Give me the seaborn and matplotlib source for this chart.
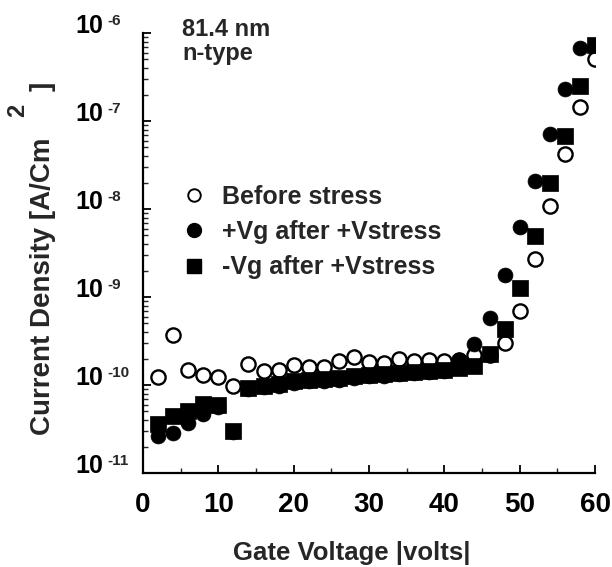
import numpy as np
import pandas as pd
import matplotlib
matplotlib.use("Agg")
import matplotlib.pyplot as plt
import matplotlib.transforms as mtransforms
import seaborn as sns
from matplotlib.ticker import LogLocator, NullFormatter, MultipleLocator
from matplotlib.lines import Line2D

# ---------------- data ----------------
v_before = [2, 4, 6, 8, 10, 12, 14, 16, 18, 20, 22, 24, 26, 28, 30, 32, 34, 36, 38, 40,
            42, 44, 46, 48, 50, 52, 54, 56, 58, 60]
j_before = [1.23e-10, 3.7e-10, 1.5e-10, 1.3e-10, 1.23e-10, 9.8e-11, 1.74e-10, 1.45e-10,
            1.5e-10, 1.7e-10, 1.6e-10, 1.6e-10, 1.87e-10, 2.1e-10, 1.82e-10, 1.8e-10,
            2.0e-10, 1.87e-10, 1.9e-10, 1.87e-10, 1.9e-10, 2.2e-10, 2.2e-10, 3.0e-10,
            6.9e-10, 2.7e-9, 1.07e-8, 4.2e-8, 1.45e-7, 5.0e-7]

v_plus = [2, 4, 6, 8, 10, 12, 14, 16, 18, 20, 22, 24, 26, 28, 30, 32, 34, 36, 38, 40,
          42, 44, 46, 48, 50, 52, 54, 56, 58]
j_plus = [2.6e-11, 2.85e-11, 3.7e-11, 4.7e-11, 5.6e-11, 2.9e-11, 9.0e-11, 9.4e-11,
          9.8e-11, 1.05e-10, 1.1e-10, 1.12e-10, 1.15e-10, 1.2e-10, 1.25e-10, 1.28e-10,
          1.32e-10, 1.36e-10, 1.4e-10, 1.45e-10, 1.9e-10, 2.95e-10, 5.8e-10, 1.76e-9,
          6.2e-9, 2.1e-8, 7.1e-8, 2.3e-7, 6.8e-7]

v_minus = [2, 4, 6, 8, 10, 12, 14, 16, 18, 20, 22, 24, 26, 28, 30, 32, 34, 36, 38, 40,
           42, 44, 46, 48, 50, 52, 54, 56, 58, 60]
j_minus = [3.6e-11, 4.45e-11, 5.0e-11, 6.1e-11, 6.0e-11, 3.0e-11, 9.3e-11, 9.8e-11,
           1.03e-10, 1.1e-10, 1.15e-10, 1.17e-10, 1.2e-10, 1.25e-10, 1.3e-10, 1.33e-10,
           1.38e-10, 1.42e-10, 1.45e-10, 1.5e-10, 1.55e-10, 1.65e-10, 2.25e-10, 4.3e-10,
           1.28e-9, 4.9e-9, 1.96e-8, 6.8e-8, 2.5e-7, 7.4e-7]

labels = ["Before stress", "+Vg after +Vstress", "-Vg after +Vstress"]
x_ticks = [0, 10, 20, 30, 40, 50, 60]
y_exps = [-11, -10, -9, -8, -7, -6]

# ---------------- style ----------------
sns.set_style("ticks")
FAM = ["Liberation Sans", "DejaVu Sans"]
plt.rcParams["font.family"] = FAM
plt.rcParams["font.weight"] = "bold"

fig = plt.figure(figsize=(6.12, 5.67), dpi=100)
ax = fig.add_axes([143 / 612, 1 - 473 / 567, 452 / 612, 440 / 567])

sns.scatterplot(x=v_before, y=j_before, ax=ax, marker="o", s=105,
                facecolor="white", edgecolor="black", linewidth=1.7, zorder=3)
sns.scatterplot(x=v_plus, y=j_plus, ax=ax, marker="o", s=115,
                color="black", edgecolor="black", linewidth=0.5, zorder=4)
sns.scatterplot(x=v_minus, y=j_minus, ax=ax, marker="s", s=120,
                color="black", edgecolor="black", linewidth=0.5, zorder=5)

ax.set_yscale("log")
ax.set_xlim(0, 60)
ax.set_ylim(1e-11, 1e-6)

sns.despine(ax=ax, top=True, right=True)
for sp in ["left", "bottom"]:
    ax.spines[sp].set_linewidth(1.6)
    ax.spines[sp].set_color("black")

ax.set_xticks(x_ticks)
ax.set_xticklabels([str(t) for t in x_ticks], fontsize=20, fontweight="bold")
ax.xaxis.set_minor_locator(MultipleLocator(5))

# y ticks: base "10" as tick label, exponent as a small raised text
ax.set_yticks([10.0 ** e for e in y_exps])
ax.set_yticklabels(["10"] * len(y_exps), fontsize=18, fontweight="bold")
ax.yaxis.set_minor_locator(LogLocator(base=10, subs=np.arange(2, 10)))
ax.yaxis.set_minor_formatter(NullFormatter())
ax.tick_params(axis="both", which="major", direction="in", length=6, width=1.3,
               colors="black")
ax.tick_params(axis="both", which="minor", direction="in", length=3.5, width=1.0)
ax.tick_params(axis="x", which="major", pad=14)
ax.tick_params(axis="y", which="major", pad=28.5)
for t in ax.yaxis.get_major_ticks():
    t.label1.set_verticalalignment("baseline")

blend = mtransforms.blended_transform_factory(ax.transAxes, ax.transData)
x_exp = (107 - 143) / 452
for e in y_exps:
    ax.annotate("%d" % e, xy=(x_exp, 10.0 ** e), xycoords=blend,
                xytext=(0, 5.5), textcoords="offset points",
                ha="left", va="baseline", fontsize=11, fontweight="bold",
                annotation_clip=False)

# axis labels
fig.text(352 / 612, 1 - 553 / 567, "Gate Voltage |volts|", ha="center", va="center",
         fontsize=18.5, fontweight="bold")
fig.text(43 / 612, 1 - 286 / 567, "Current Density [A/Cm", rotation=90,
         ha="center", va="center", fontsize=20, fontweight="bold")
fig.text(18 / 612, 1 - 110 / 567, "2", rotation=90, ha="center", va="center",
         fontsize=17, fontweight="bold")
fig.text(43 / 612, 1 - 86 / 567, "]", rotation=90, ha="center", va="center",
         fontsize=20, fontweight="bold")

# annotation
fig.text(182 / 612, 1 - 18 / 567, "81.4 nm\nn-type", ha="left", va="top",
         fontsize=17, fontweight="bold", linespacing=1.05)

# legend
handles = [
    Line2D([], [], ls="none", marker="o", ms=9, mfc="white", mec="black", mew=1.4),
    Line2D([], [], ls="none", marker="o", ms=10, mfc="black", mec="black"),
    Line2D([], [], ls="none", marker="s", ms=10, mfc="black", mec="black"),
]
ax.legend(handles, labels, loc="upper left", frameon=False,
          bbox_to_anchor=(181 / 612, 1 - 185 / 567), bbox_transform=fig.transFigure,
          prop={"family": FAM, "weight": "bold", "size": 18},
          handlelength=1.0, handletextpad=0.66, labelspacing=0.45, borderpad=0.0,
          borderaxespad=0.0)

fig.savefig("out.png", dpi=100)
